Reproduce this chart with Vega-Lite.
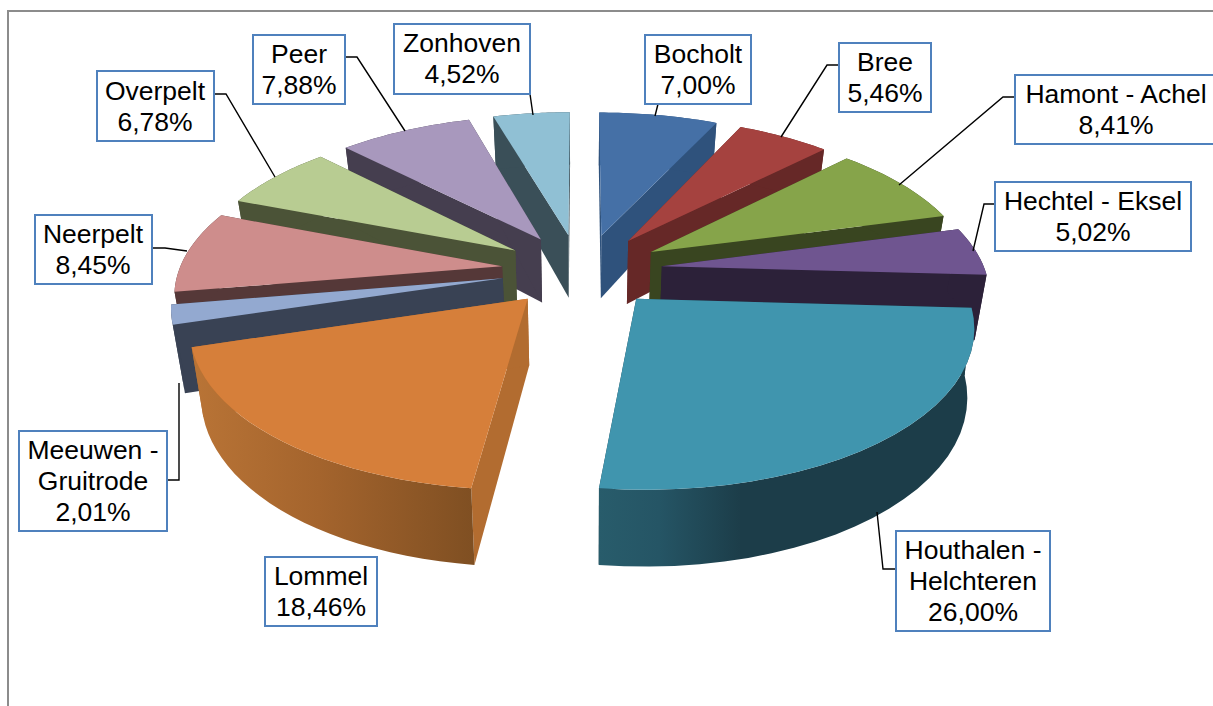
{
"$schema":"https://vega.github.io/schema/vega-lite/v6.json",
"width":1213,"height":706,"padding":0,"autosize":{"type":"none"},
"background":"white",
"config":{"view":{"stroke":null}},
"datasets":{"shares":[
{"name":"Bocholt","value":7.00},
{"name":"Zonhoven","value":4.52},
{"name":"Bree","value":5.46},
{"name":"Peer","value":7.88},
{"name":"Hamont - Achel","value":8.41},
{"name":"Overpelt","value":6.78},
{"name":"Hechtel - Eksel","value":5.02},
{"name":"Neerpelt","value":8.45},
{"name":"Meeuwen - Gruitrode","value":2.01},
{"name":"Lommel","value":18.46},
{"name":"Houthalen - Helchteren","value":26.00}
]},
"data":{"name":"shares"},
"transform":[
{"joinaggregate":[{"op":"sum","field":"value","as":"total"}]},
{"window":[{"op":"sum","field":"value","as":"cum"}],"sort":[{"field":"name","order":"ascending"}]},
{"calculate":"2*PI*(datum.cum-datum.value)/datum.total","as":"th0"},
{"calculate":"2*PI*datum.cum/datum.total","as":"th1"},
{"calculate":"(datum.th0+datum.th1)/2","as":"mid"},
{"calculate":"['wallS','wallE','rim','top']","as":"face"},
{"flatten":["face"]},
{"calculate":"datum.face=='top'?sequence(-1,26):datum.face=='rim'?sequence(0,52):sequence(0,4)","as":"k"},
{"flatten":["k"]},
{"calculate":"datum.face=='top'?(datum.k<0?-1:datum.k/25):datum.face=='rim'?(datum.k<=25?datum.k/25:(51-datum.k)/25):datum.face=='wallS'?((datum.k==1||datum.k==2)?0:-1):((datum.k==1||datum.k==2)?1:-1)","as":"t"},
{"calculate":"datum.face=='rim'?datum.k>25:(datum.face=='top'?false:datum.k>=2)","as":"bottom"},
{"calculate":"datum.th0+datum.t*(datum.th1-datum.th0)","as":"th"},
{"calculate":"(datum.t<0?0:sin(datum.th))+0.24*sin(datum.mid)","as":"u"},
{"calculate":"(datum.t<0?0:cos(datum.th))+0.24*cos(datum.mid)","as":"v"},
{"calculate":"1/(1+0.154*datum.v)","as":"pf"},
{"calculate":"(sin(datum.mid)<0?579:585)+323*datum.u*datum.pf*(datum.bottom?(datum.name=='Houthalen - Helchteren'?0.982:0.97):1)","as":"px"},
{"calculate":"270-151.8*datum.v*datum.pf+(datum.bottom?65-10*datum.v:0)","as":"py"},
{"calculate":"datum.name+'|'+datum.face","as":"poly"},
{"calculate":"datum.name+(datum.face=='top'?'|top':'|side')","as":"tone"}
],
"encoding":{
"x":{"field":"px","type":"quantitative","scale":{"domain":[0,1213],"nice":false,"zero":false},"axis":null},
"y":{"field":"py","type":"quantitative","scale":{"domain":[706,0],"nice":false,"zero":false},"axis":null},
"detail":{"field":"poly"},
"order":{"field":"k","type":"quantitative"}
},
"layer":[
{"transform":[{"filter":"!((datum.name=='Lommel'||datum.name=='Houthalen - Helchteren')&&(datum.face=='rim'||datum.face=='top'))"}],
 "mark":{"type":"line","filled":true,"strokeWidth":0,"interpolate":"linear"},
 "encoding":{"color":{"field":"tone","type":"nominal","legend":null,"scale":{
  "domain":["Bocholt|top","Bree|top","Hamont - Achel|top","Hechtel - Eksel|top","Meeuwen - Gruitrode|top","Neerpelt|top","Overpelt|top","Peer|top","Zonhoven|top","Bocholt|side","Bree|side","Hamont - Achel|side","Hechtel - Eksel|side","Houthalen - Helchteren|side","Lommel|side","Meeuwen - Gruitrode|side","Neerpelt|side","Overpelt|side","Peer|side","Zonhoven|side"],
  "range":["#4570a6","#a5423f","#86a44a","#6f5590","#93a9d0","#ce8d8c","#b8cc92","#a898bd","#90c0d4","#2f527c","#662827","#394520","#2c2139","#1c3d49","#b26c30","#394254","#553838","#4b5337","#453e4f","#3a4f58"]
 }}}},
{"transform":[{"filter":"datum.name=='Lommel'&&datum.face=='rim'"}],
 "mark":{"type":"line","strokeWidth":0,"fill":{"gradient":"linear","x1":0,"y1":0,"x2":1,"y2":0,"stops":[{"offset":0,"color":"#b97436"},{"offset":0.45,"color":"#a4642d"},{"offset":1,"color":"#7f4f22"}]}}},
{"transform":[{"filter":"datum.name=='Houthalen - Helchteren'&&datum.face=='rim'"}],
 "mark":{"type":"line","strokeWidth":0,"fill":{"gradient":"linear","x1":0,"y1":0,"x2":1,"y2":0,"stops":[{"offset":0,"color":"#285c6b"},{"offset":0.16,"color":"#255565"},{"offset":0.38,"color":"#1c3d49"},{"offset":1,"color":"#1c3d49"}]}}},
{"transform":[{"filter":"datum.name=='Lommel'&&datum.face=='top'"}],
 "mark":{"type":"line","strokeWidth":0,"fill":"#d67f3a"}},
{"transform":[{"filter":"datum.name=='Houthalen - Helchteren'&&datum.face=='top'"}],
 "mark":{"type":"line","strokeWidth":0,"fill":"#4095ae"}},
{"data":{"name":"shares"},
 "transform":[
  {"filter":"datum.name=='Bocholt'"},
  {"calculate":"[[8,706,0],[8,11,1],[1213,11,2]]","as":"pt"},
  {"flatten":["pt"]},
  {"calculate":"datum.pt[0]","as":"px"},
  {"calculate":"datum.pt[1]","as":"py"},
  {"calculate":"datum.pt[2]","as":"k"},
  {"calculate":"'frame'","as":"poly"}
 ],
 "mark":{"type":"line","color":"#8c8c8c","strokeWidth":2}},
{"data":{"name":"shares"},
 "transform":[
  {"calculate":"{'Bocholt':[[658,104,0],[655,116,1]],'Bree':[[839,65,0],[827,65,1],[781,137,2]],'Hamont - Achel':[[1015,97,0],[1003,97,1],[899,185,2]],'Hechtel - Eksel':[[995,204,0],[984,204,1],[973,251,2]],'Houthalen - Helchteren':[[896,569,0],[883,569,1],[877,512,2]],'Meeuwen - Gruitrode':[[167,480,0],[179,480,1],[179,383,2]],'Neerpelt':[[152,248,0],[165,248,1],[187,251,2]],'Overpelt':[[214,94,0],[226,94,1],[275,177,2]],'Peer':[[345,57,0],[357,57,1],[405,131,2]],'Zonhoven':[[530,94,0],[533,115,1]]}[datum.name]||[]","as":"pt"},
  {"flatten":["pt"]},
  {"calculate":"datum.pt[0]","as":"px"},
  {"calculate":"datum.pt[1]","as":"py"},
  {"calculate":"datum.pt[2]","as":"k"},
  {"calculate":"datum.name","as":"poly"}
 ],
 "mark":{"type":"line","color":"#000000","strokeWidth":1.4}},
{"data":{"name":"shares"},
 "transform":[
  {"calculate":"{'Bocholt':[645,751,35,104],'Bree':[839,931,43,112],'Hamont - Achel':[1015,1217,75,144],'Hechtel - Eksel':[995,1191,182,251],'Houthalen - Helchteren':[896,1050,531,631],'Lommel':[265,377,557,626],'Meeuwen - Gruitrode':[19,167,431,531],'Neerpelt':[35,152,215,284],'Overpelt':[97,214,71,141],'Peer':[253,345,35,104],'Zonhoven':[394,530,24,94]}[datum.name]","as":"b"},
  {"calculate":"datum.b[0]","as":"px"},
  {"calculate":"datum.b[1]","as":"px2"},
  {"calculate":"datum.b[2]","as":"py"},
  {"calculate":"datum.b[3]","as":"py2"}
 ],
 "mark":{"type":"rect","fill":"#ffffff","stroke":"#4f81bd","strokeWidth":2},
 "encoding":{"x2":{"field":"px2"},"y2":{"field":"py2"},"detail":null,"order":null}},
{"data":{"name":"shares"},
 "transform":[
  {"calculate":"{'Bocholt':[698,70],'Bree':[885,78],'Hamont - Achel':[1116,110],'Hechtel - Eksel':[1093,217],'Houthalen - Helchteren':[973,582],'Lommel':[321,592],'Meeuwen - Gruitrode':[93,482],'Neerpelt':[93,250],'Overpelt':[155,107],'Peer':[299,70],'Zonhoven':[462,59]}[datum.name]","as":"b"},
  {"calculate":"datum.name=='Meeuwen - Gruitrode'||datum.name=='Houthalen - Helchteren'","as":"three"},
  {"calculate":"datum.b[0]","as":"px"},
  {"calculate":"datum.b[1]-(datum.three?31:15.5)","as":"py"},
  {"calculate":"(datum.three?replace(datum.name,' - ',' -\\n'):datum.name)+'\\n'+replace(format(datum.value,'.2f'),'.',',')+'%'","as":"label"}
 ],
 "mark":{"type":"text","font":"Liberation Sans","fontSize":26.5,"lineHeight":31,"lineBreak":"\n","align":"center","baseline":"middle","color":"#000000"},
 "encoding":{"text":{"field":"label"},"detail":null,"order":null}}
]
}
